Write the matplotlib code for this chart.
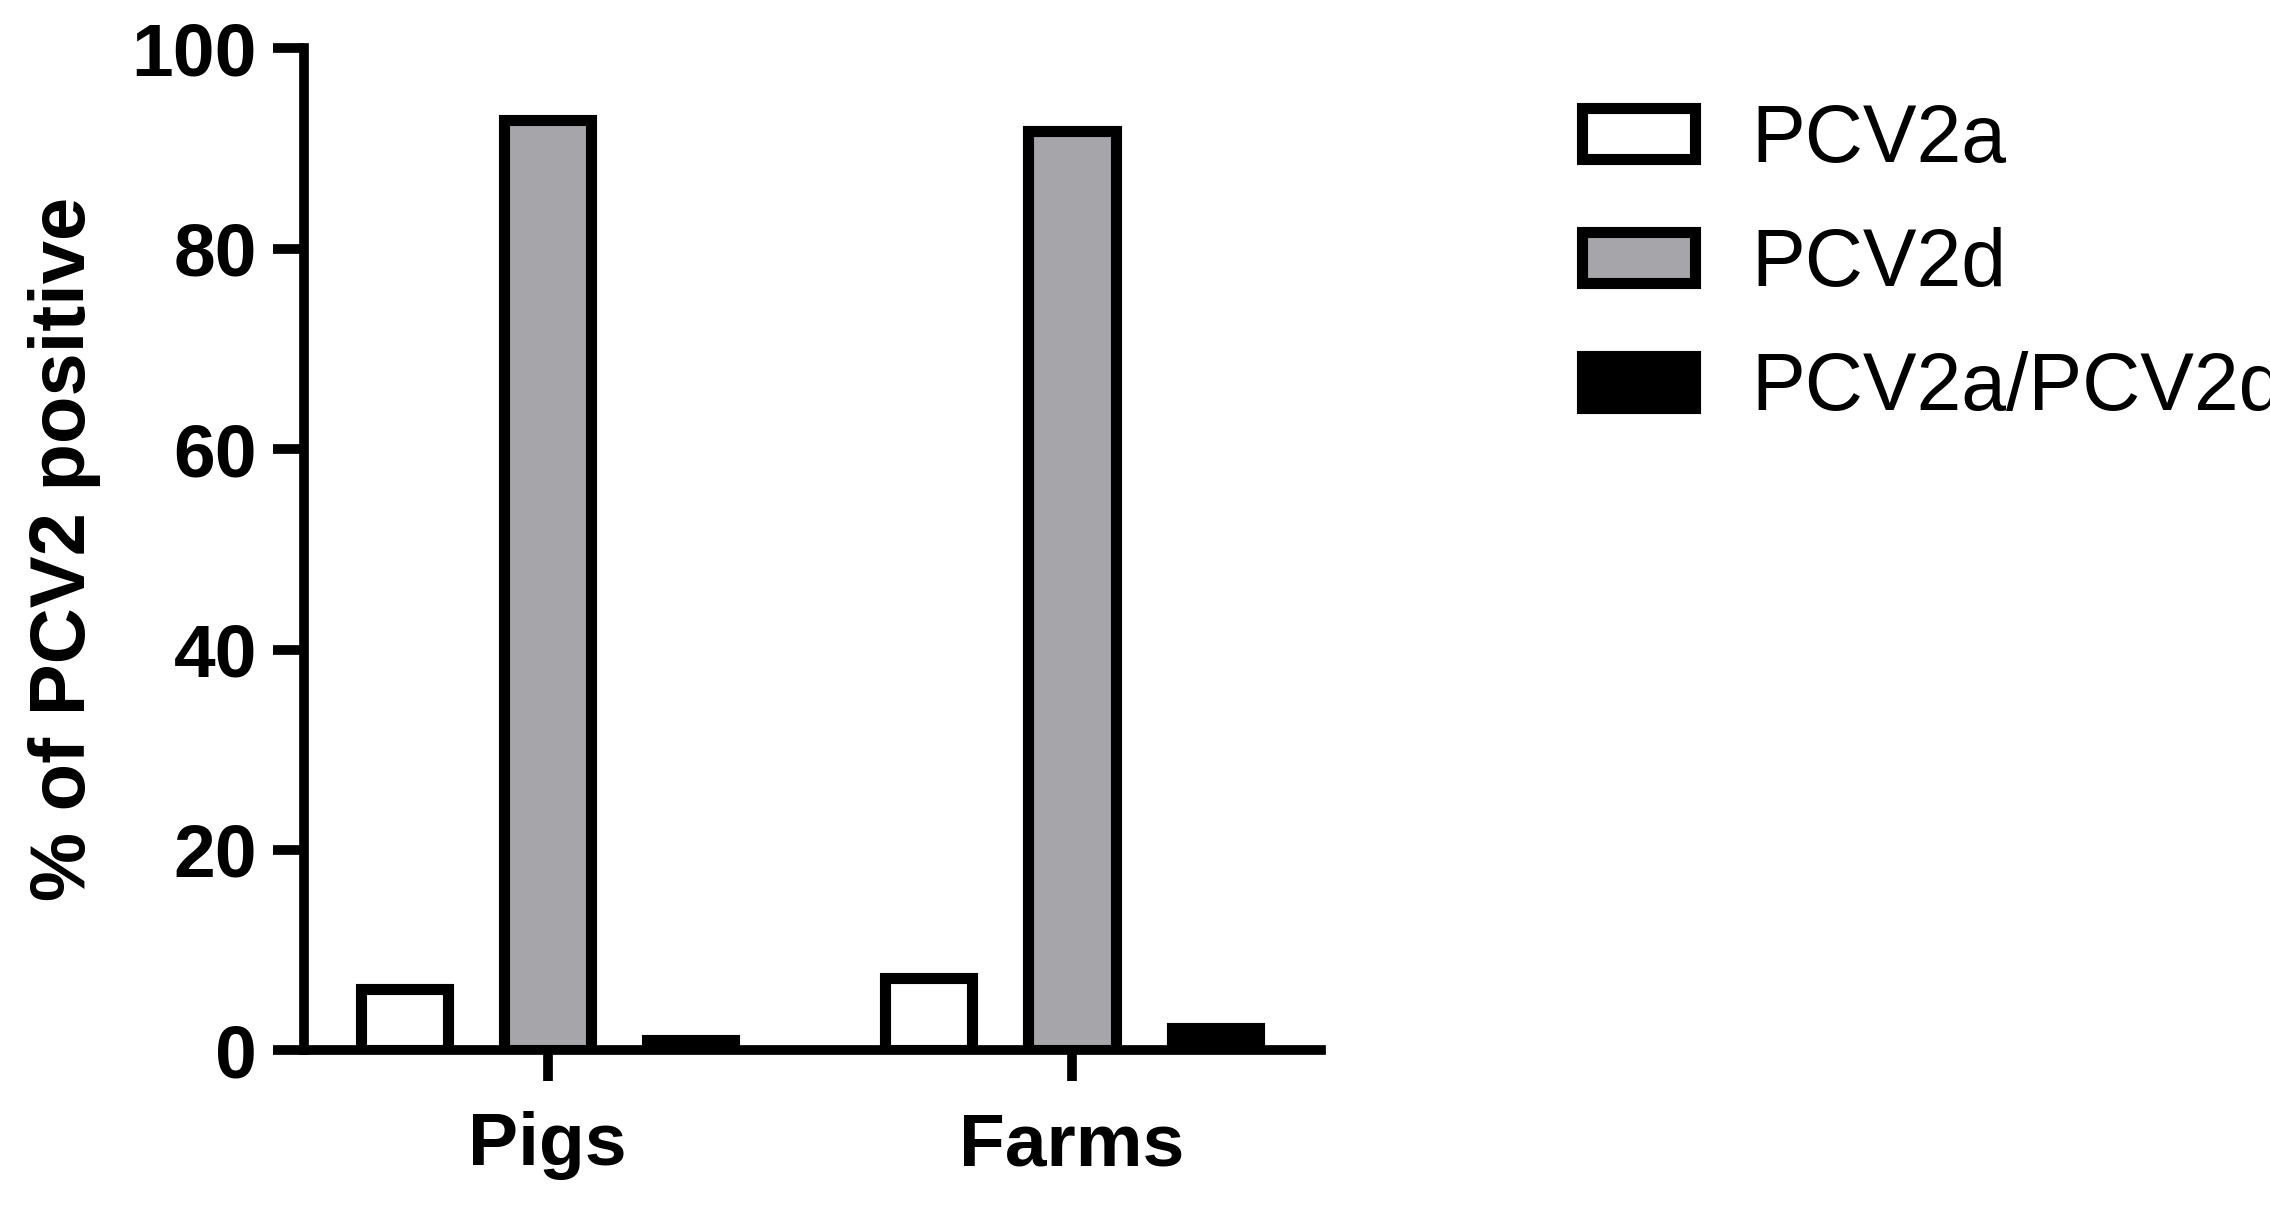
import matplotlib
matplotlib.use("Agg")
import matplotlib.pyplot as plt
import numpy as np

plt.rcParams["font.family"] = ["Liberation Sans", "DejaVu Sans"]

groups = ["Pigs", "Farms"]
series = ["PCV2a", "PCV2d", "PCV2a/PCV2d"]
values = {
    "PCV2a": [6.1, 7.2],
    "PCV2d": [92.9, 91.8],
    "PCV2a/PCV2d": [1.0, 2.2],
}
colors = {"PCV2a": "white", "PCV2d": "#a6a5aa", "PCV2a/PCV2d": "black"}

fig = plt.figure(figsize=(22.7, 12.1), dpi=100)
ax = fig.add_axes([0.134, 0.132, 0.448, 0.828])

x = np.arange(len(groups))
offsets = [-0.273, 0.0, 0.273]
for off, s in zip(offsets, series):
    ax.bar(x + off, values[s], width=0.166, color=colors[s], edgecolor="black",
           linewidth=8, label=s, zorder=3)

ax.set_xlim(-0.464, 1.475)
ax.set_ylim(0, 100)
ax.set_xticks(x)
ax.set_xticklabels(groups, fontsize=54, fontweight="bold")
ax.set_yticks([0, 20, 40, 60, 80, 100])
ax.set_yticklabels(["0", "20", "40", "60", "80", "100"], fontsize=54, fontweight="bold")
ax.set_ylabel("% of PCV2 positive", fontsize=56, fontweight="bold", labelpad=22)
for side in ("top", "right"):
    ax.spines[side].set_visible(False)
for side in ("left", "bottom"):
    ax.spines[side].set_linewidth(7)
ax.tick_params(axis="both", width=7, length=22, pad=12)
ax.tick_params(axis="x", pad=22)

fig.legend(loc="upper left", bbox_to_anchor=(0.665, 0.975), frameon=False,
           fontsize=58, handlelength=1.4, handleheight=0.6, labelspacing=0.6,
           handletextpad=0.7)

fig.savefig("out.png", dpi=100)
